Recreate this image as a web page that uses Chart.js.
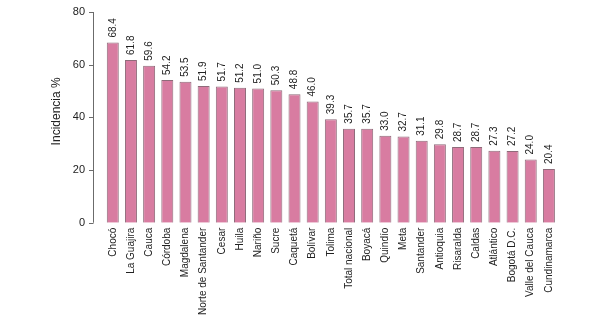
<!DOCTYPE html>
<html>
<head>
<meta charset="utf-8">
<script src="https://cdn.jsdelivr.net/npm/chart.js@4"></script>
<style>
  html, body { margin: 0; padding: 0; background: #fff; }
  #wrap { width: 599px; height: 324px; }
</style>
</head>
<body>
<div id="wrap"><canvas id="grafico"></canvas></div>
<script>
// Datos de la gráfica
const departamentos = ["Chocó", "La Guajira", "Cauca", "Córdoba", "Magdalena", "Norte de Santander",
    "Cesar", "Huila", "Nariño", "Sucre", "Caquetá", "Bolívar", "Tolima", "Total nacional", "Boyacá",
    "Quindío", "Meta", "Santander", "Antioquia", "Risaralda", "Caldas", "Atlántico", "Bogotá D.C.",
    "Valle del Cauca", "Cundinamarca"];
const incidencia = [68.4, 61.8, 59.6, 54.2, 53.5, 51.9, 51.7, 51.2, 51.0, 50.3, 48.8, 46.0, 39.3,
    35.7, 35.7, 33.0, 32.7, 31.1, 29.8, 28.7, 28.7, 27.3, 27.2, 24.0, 20.4];
const ticksY = [0, 20, 40, 60, 80];

const fuente = "'Liberation Sans', Arial, sans-serif";

// Eje Y dibujado a mano (línea, marcas y números), separado del área de barras
const ejeY = {
    id: 'ejeY',
    afterDraw(chart) {
        const c = chart.ctx, y = chart.scales.y, x0 = Math.round(chart.chartArea.left - 11);
        c.save();
        c.strokeStyle = '#6b6b6b';
        c.lineWidth = 1;
        c.beginPath();
        c.moveTo(x0 + 0.5, y.getPixelForValue(80));
        c.lineTo(x0 + 0.5, y.getPixelForValue(0));
        ticksY.forEach(v => {
            const py = Math.round(y.getPixelForValue(v)) + 0.5;
            c.moveTo(x0 - 4, py);
            c.lineTo(x0 + 0.5, py);
        });
        c.stroke();
        c.fillStyle = '#222';
        c.font = '11px ' + fuente;
        c.textAlign = 'right';
        c.textBaseline = 'middle';
        ticksY.forEach(v => c.fillText(String(v), x0 - 8, y.getPixelForValue(v)));
        c.restore();
    }
};

// Etiquetas de valor giradas encima de cada barra
const etiquetas = {
    id: 'etiquetas',
    afterDatasetsDraw(chart) {
        const c = chart.ctx;
        const meta = chart.getDatasetMeta(0);
        c.save();
        c.fillStyle = '#222';
        c.font = '10px ' + fuente;
        c.textAlign = 'left';
        c.textBaseline = 'middle';
        meta.data.forEach((bar, i) => {
            c.save();
            c.translate(bar.x, bar.y - 5);
            c.rotate(-Math.PI / 2);
            c.fillText(incidencia[i].toFixed(1), 0, 0);
            c.restore();
        });
        c.restore();
    }
};

// Título del eje Y
const tituloY = {
    id: 'tituloY',
    afterDraw(chart) {
        const c = chart.ctx, a = chart.chartArea;
        c.save();
        c.fillStyle = '#222';
        c.font = '12px ' + fuente;
        c.textAlign = 'center';
        c.textBaseline = 'middle';
        c.translate(57, (a.top + a.bottom) / 2 - 6);
        c.rotate(-Math.PI / 2);
        c.fillText('Incidencia %', 0, 0);
        c.restore();
    }
};

new Chart(document.getElementById('grafico'), {
    type: 'bar',
    data: {
        labels: departamentos,
        datasets: [{
            data: incidencia,
            backgroundColor: '#d87ca1',
            borderColor: '#8f6b7a',
            borderWidth: 1,
            categoryPercentage: 1,
            barPercentage: 0.66
        }]
    },
    options: {
        responsive: true,
        maintainAspectRatio: false,
        animation: false,
        layout: { padding: { top: 12, right: 41, left: 103.7, bottom: 4 } },
        plugins: {
            legend: { display: false },
            tooltip: { enabled: false }
        },
        scales: {
            x: {
                offset: true,
                grid: { display: false, drawTicks: false },
                border: { display: false },
                ticks: {
                    autoSkip: false,
                    maxRotation: 90,
                    minRotation: 90,
                    padding: 5,
                    color: '#222',
                    font: { family: fuente, size: 10 }
                }
            },
            y: {
                min: 0,
                max: 80,
                afterBuildTicks: s => { s.ticks = ticksY.map(v => ({ value: v })); },
                grid: { display: false, drawTicks: false },
                border: { display: false },
                ticks: { display: false, padding: 0 }
            }
        }
    },
    plugins: [ejeY, etiquetas, tituloY]
});
</script>
</body>
</html>
